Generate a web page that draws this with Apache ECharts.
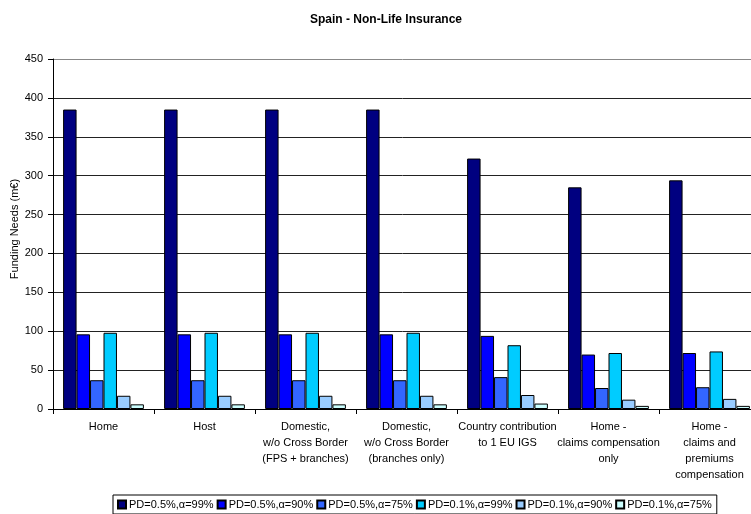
<!DOCTYPE html>
<html>
<head>
<meta charset="utf-8">
<script src="https://cdn.jsdelivr.net/npm/echarts@6/dist/echarts.min.js"></script>
<style>html,body{margin:0;padding:0;background:#fff;}#c{width:751px;height:514px;}</style>
</head>
<body>
<div id="c"></div>
<script>
const categories = ['Home','Host','Domestic,\nw/o Cross Border\n(FPS + branches)','Domestic,\nw/o Cross Border\n(branches only)','Country contribution\nto 1 EU IGS','Home -\nclaims compensation\nonly','Home -\nclaims and\npremiums\ncompensation'];
const seriesNames = ['PD=0.5%,α=99%','PD=0.5%,α=90%','PD=0.5%,α=75%','PD=0.1%,α=99%','PD=0.1%,α=90%','PD=0.1%,α=75%'];
const pd05a99 = [385,385,385,385,322,285,294];
const pd05a90 = [96,96,96,96,94,70,72];
const pd05a75 = [37,37,37,37,41,27,28];
const pd01a99 = [98,98,98,98,82,72,74];
const pd01a90 = [17,17,17,17,18,12,13];
const pd01a75 = [6,6,6,6,7,4,4];
const colors = ['#000080','#0000FF','#3366FF','#00CCFF','#99CCFF','#CCFFFF'];
const values = [pd05a99,pd05a90,pd05a75,pd01a99,pd01a90,pd01a75];

const font = 'Liberation Sans, Arial, sans-serif';
const chart = echarts.init(document.getElementById('c'), null, {renderer:'canvas'});
chart.setOption({
  backgroundColor:'#fff',
  animation:false,
  title:{text:'Spain - Non-Life Insurance', left:381, top:9, textAlign:'center',
    textStyle:{fontFamily:font, fontSize:12, fontWeight:'bold', color:'#000'}},
  legend:{data:seriesNames, left:113, top:495, itemWidth:8, itemHeight:8, itemGap:3,
    padding:[4,5,4,4], borderColor:'#000', borderWidth:1, backgroundColor:'#fff',
    icon:'rect',
    textStyle:{fontFamily:font, fontSize:11, color:'#000', padding:[0,0,0,-2]}},
  grid:{left:53, top:59, width:707, height:350, containLabel:false, outerBoundsMode:'none'},
  xAxis:{type:'category', data:categories, boundaryGap:true,
    axisLine:{lineStyle:{color:'#000', width:1}},
    axisTick:{show:true, length:5, interval:0, alignWithLabel:false, lineStyle:{color:'#000'}},
    axisLabel:{interval:0, margin:10, fontFamily:font, fontSize:11, color:'#000', lineHeight:16}},
  yAxis:{type:'value', min:0, max:450, interval:50,
    name:'Funding Needs (m€)', nameLocation:'middle', nameGap:33, nameRotate:90, nameMoveOverlap:false,
    nameTextStyle:{fontFamily:font, fontSize:11, color:'#000', padding:[0,0,0,10]},
    axisLine:{show:true, lineStyle:{color:'#000', width:1}},
    axisTick:{show:true, length:5, lineStyle:{color:'#000'}},
    axisLabel:{margin:10, fontFamily:font, fontSize:11, color:'#000'},
    splitLine:{show:true, lineStyle:{color:['#222','#222','#222','#222','#222','#222','#222','#222','#222','#888'], width:1}}},
  series: seriesNames.map((n,i)=>({
    name:n, type:'bar', data:values[i], barGap:'0%', barCategoryGap:'20%',
    itemStyle:{color:colors[i], borderColor:'#000', borderWidth:1}
  }))
});
</script>
</body>
</html>
